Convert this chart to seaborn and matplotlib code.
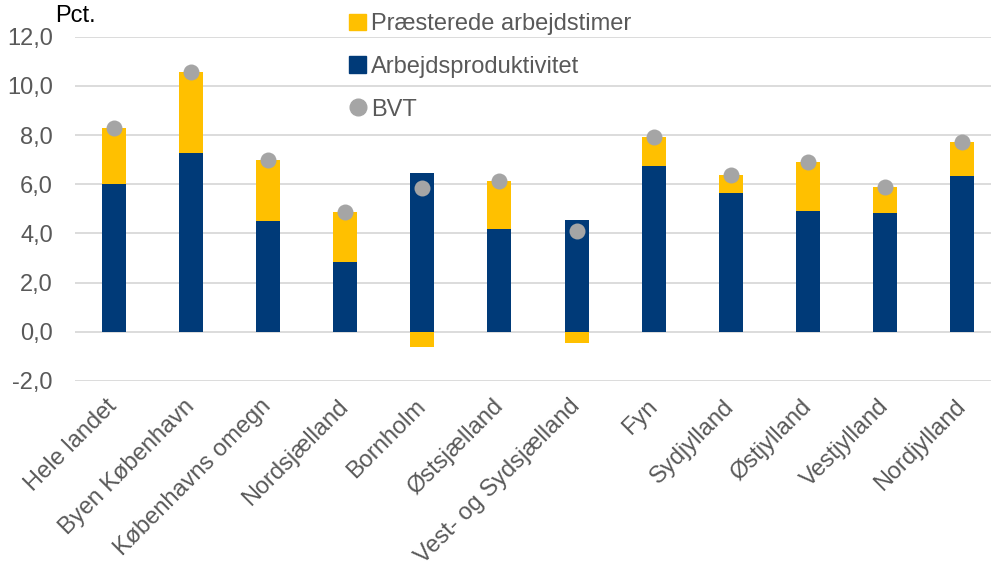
import pandas as pd
import matplotlib
matplotlib.use('Agg')
import matplotlib.pyplot as plt
import seaborn as sns
from matplotlib.patches import Patch
from matplotlib.lines import Line2D

# =========================
# DATA
# =========================

regions = ['Hele landet', 'Byen København', 'Københavns omegn', 'Nordsjælland',
           'Bornholm', 'Østsjælland', 'Vest- og Sydsjælland', 'Fyn',
           'Sydjylland', 'Østjylland', 'Vestjylland', 'Nordjylland']
produktivitet = [6.03, 7.28, 4.50, 2.84, 6.44, 4.20, 4.54, 6.74, 5.65, 4.92, 4.84, 6.33]
arbejdstimer = [2.27, 3.30, 2.47, 2.04, -0.61, 1.94, -0.45, 1.18, 0.73, 2.00, 1.04, 1.37]
bvt = [8.30, 10.58, 6.97, 4.88, 5.83, 6.14, 4.10, 7.92, 6.38, 6.92, 5.88, 7.70]

yticks = [-2, 0, 2, 4, 6, 8, 10, 12]

col_blue = '#003A78'
col_yellow = '#FFC000'
col_grey = '#A5A5A5'
col_text = '#595959'

df = pd.DataFrame({'region': regions, 'prod': produktivitet,
                   'timer': arbejdstimer, 'bvt': bvt})
# Excel-style stacking: positive part sits on top of blue, negative hangs below 0
df['timer_top'] = [p + t if t > 0 else t for p, t in zip(df['prod'], df['timer'])]

# =========================
# PLOT
# =========================

sns.set_style('white')
plt.rcParams['font.family'] = ['Liberation Sans', 'DejaVu Sans']

fig = plt.figure(figsize=(9.91, 5.69), dpi=100)
ax = fig.add_axes([75 / 991, 1 - 381 / 569, 926 / 991, (381 - 36.7) / 569])

sns.barplot(data=df, x='region', y='timer_top', color=col_yellow, width=0.31,
            saturation=1, linewidth=0, ax=ax, zorder=2)
sns.barplot(data=df, x='region', y='prod', color=col_blue, width=0.31,
            saturation=1, linewidth=0, ax=ax, zorder=3)
sns.stripplot(data=df, x='region', y='bvt', color=col_grey, jitter=False,
              size=11.5, linewidth=0, ax=ax, zorder=4)

ax.set_ylim(-2, 12)
ax.set_yticks(yticks)
ax.set_yticklabels([f'{v:.1f}'.replace('.', ',') for v in yticks])
ax.set_xlim(-0.5, len(regions) - 0.5)
ax.set_xlabel('')
ax.set_ylabel('')

ax.grid(axis='y', color='#D9D9D9', linewidth=1.3, zorder=0)
ax.set_axisbelow(True)
for s in ax.spines.values():
    s.set_visible(False)

ax.tick_params(axis='both', length=0, labelsize=17, labelcolor=col_text)
ax.tick_params(axis='y', pad=16)
ax.tick_params(axis='x', pad=16)
for lbl in ax.get_xticklabels():
    lbl.set_rotation(45)
    lbl.set_ha('right')
    lbl.set_va('center')
    lbl.set_rotation_mode('anchor')

fig.text(55 / 991, 1 - 16 / 569, 'Pct.', fontsize=17, color='black', va='center')

handles = [
    Patch(color=col_yellow, label='Præsterede arbejdstimer'),
    Patch(color=col_blue, label='Arbejdsproduktivitet'),
    Line2D([], [], marker='o', linestyle='', markersize=12, color=col_grey, label='BVT'),
]
fig.legend(handles=handles, loc='upper left', bbox_to_anchor=(340 / 991, 1 - 4 / 569),
           frameon=False, fontsize=17, labelcolor=col_text, handlelength=0.7,
           handleheight=0.7, handletextpad=0.2, labelspacing=0.87, borderaxespad=0)

fig.savefig('out.png', dpi=100)
